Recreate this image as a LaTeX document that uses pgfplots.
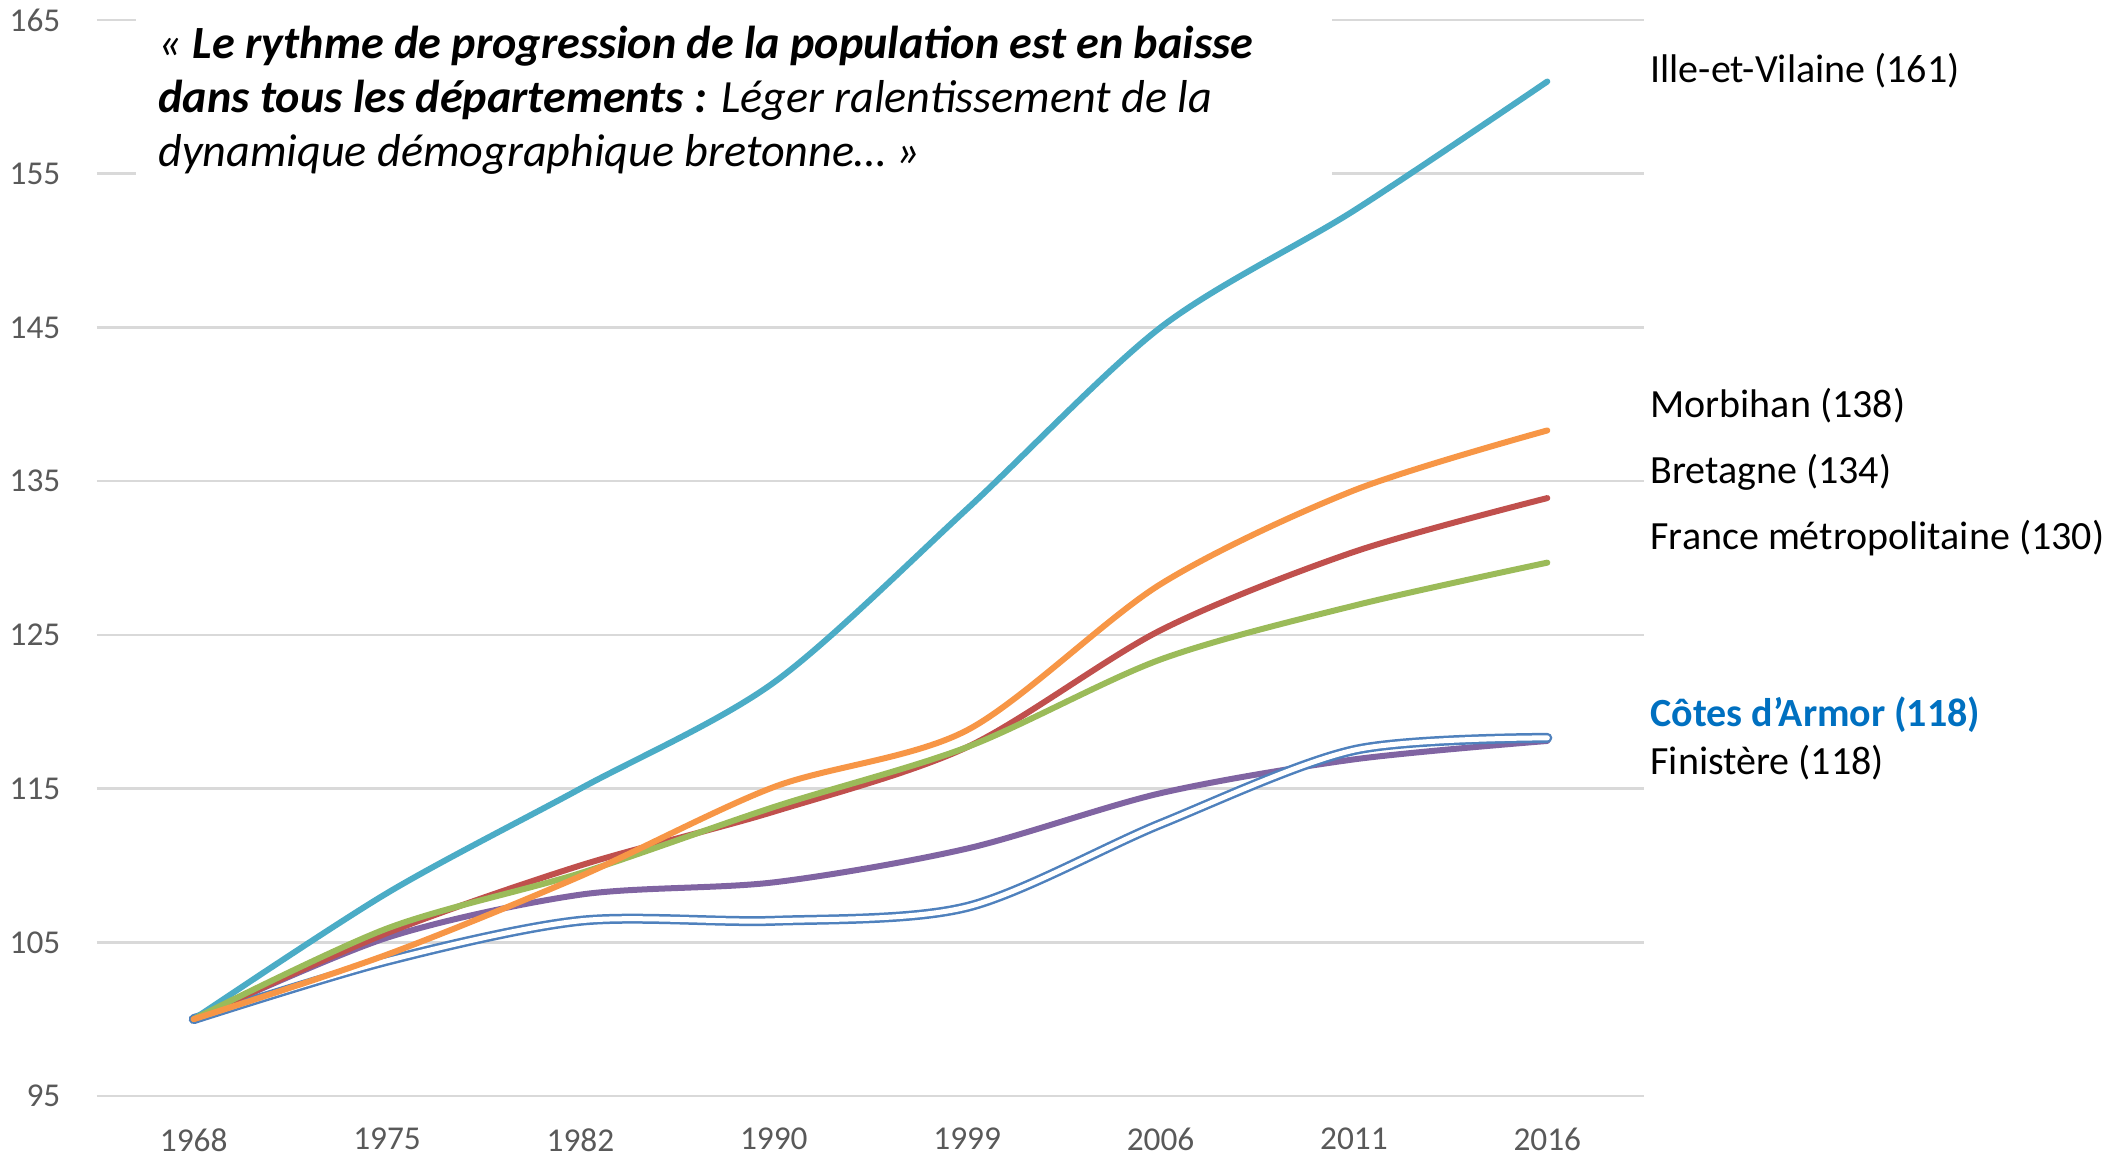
\documentclass[border=0pt]{standalone}
\usepackage{fontspec}
\setmainfont{Carlito}
\usepackage{pgfplots}
\pgfplotsset{compat=1.18}
\definecolor{cyanL}{HTML}{4BACC6}
\definecolor{orangeL}{HTML}{F79646}
\definecolor{redL}{HTML}{C0504D}
\definecolor{greenL}{HTML}{9BBB59}
\definecolor{purpleL}{HTML}{8064A2}
\definecolor{blueL}{HTML}{4F81BD}
\definecolor{armor}{HTML}{0070C0}
\definecolor{gridc}{HTML}{D9D9D9}
\definecolor{tickc}{HTML}{595959}
\begin{document}
\begin{tikzpicture}
\begin{axis}[name=ax, scale only axis, width=464.1pt, height=322.8pt,
 xmin=-0.5, xmax=7.5, ymin=95, ymax=165,
 xtick={0,...,7}, xticklabels={1968,1975,1982,1990,1999,2006,2011,2016},
 ytick={95,105,...,165},
 ymajorgrids, grid style={draw=gridc, line width=0.8pt},
 axis line style={draw=none}, major tick length=0pt,
 tick label style={font=\fontsize{10}{12}\selectfont, text=tickc},
 /pgf/number format/assume math mode=true,
 yticklabel style={anchor=east, inner sep=0pt, xshift=-10.8pt},
 xticklabel style={anchor=north, inner sep=0pt, yshift=-9.5pt},
 clip=false,
 every axis plot/.append style={smooth, line cap=round, line join=round, line width=1.8pt, mark=none}]
% Finistere
\addplot[purpleL] coordinates {(0,100) (1,105.3) (2,108.1) (3,108.9) (4,111.1) (5,114.7) (6,116.9) (7,118.1)};
% Cotes d'Armor
\addplot[blueL, line width=0.75pt, double=white, double distance=1.5pt] coordinates {(0,100) (1,103.8) (2,106.4) (3,106.4) (4,107.3) (5,112.7) (6,117.5) (7,118.3)};
% Ille-et-Vilaine
\addplot[cyanL] coordinates {(0,100) (1,108.2) (2,115.0) (3,121.9) (4,133.2) (5,145.0) (6,152.6) (7,161.0)};
% Bretagne
\addplot[redL] coordinates {(0,100) (1,105.6) (2,110.0) (3,113.5) (4,117.7) (5,125.3) (6,130.4) (7,133.9)};
% France metropolitaine
\addplot[greenL] coordinates {(0,100) (1,105.9) (2,109.5) (3,113.8) (4,117.7) (5,123.4) (6,126.9) (7,129.7)};
% Morbihan
\addplot[orangeL] coordinates {(0,100) (1,104.2) (2,109.3) (3,115.1) (4,118.8) (5,128.3) (6,134.4) (7,138.3)};
% title box
\fill[white] (axis cs:-0.30,165.9) rectangle (axis cs:5.886,154.0);
\node[anchor=base west, inner sep=0pt, font=\fontsize{13.85}{16}\selectfont] at (axis cs:-0.185,162.5) {{\itshape «} {\bfseries\itshape Le rythme de progression de la population est en baisse}};
\node[anchor=base west, inner sep=0pt, font=\fontsize{13.85}{16}\selectfont] at (axis cs:-0.185,159.0) {{\bfseries\itshape dans tous les départements :} {\itshape Léger ralentissement de la}};
\node[anchor=base west, inner sep=0pt, font=\fontsize{13.85}{16}\selectfont] at (axis cs:-0.185,155.5) {\itshape dynamique démographique bretonne… »};
% right labels
\begin{scope}[every node/.style={anchor=west, inner sep=0pt, font=\fontsize{12}{14}\selectfont}]
\node at (axis cs:7.53,161.7) {Ille-et-Vilaine (161)};
\node at (axis cs:7.53,139.9) {Morbihan (138)};
\node at (axis cs:7.53,135.6) {Bretagne (134)};
\node at (axis cs:7.53,131.3) {France métropolitaine (130)};
\node[text=armor, font=\fontsize{12}{14}\selectfont\bfseries] at (axis cs:7.53,119.8) {Côtes d’Armor (118)};
\node at (axis cs:7.53,116.7) {Finistère (118)};
\end{scope}
\end{axis}
\pgfresetboundingbox
\path[use as bounding box] (ax.south west) ++(-29.1pt,-17.7pt) rectangle ++(636.3pt,346.5pt);
\end{tikzpicture}
\end{document}
